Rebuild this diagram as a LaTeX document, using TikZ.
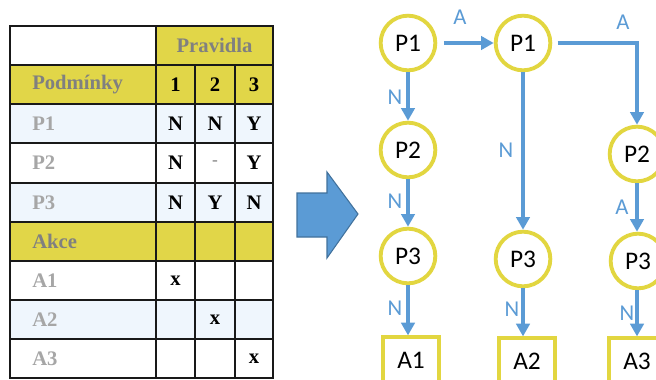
\documentclass[tikz,border=0pt]{standalone}
\usepackage{fontspec}
\setmainfont{Liberation Serif}
\newfontfamily\calib{Carlito}
\usetikzlibrary{arrows.meta}
\definecolor{tyellow}{RGB}{225,214,72}
\definecolor{tblue}{RGB}{239,246,253}
\definecolor{hgray}{RGB}{128,128,128}
\definecolor{lgray}{RGB}{166,166,166}
\definecolor{flow}{RGB}{91,155,213}
\definecolor{ring}{RGB}{226,214,64}
\definecolor{bigedge}{RGB}{65,113,156}
\begin{document}
\begin{tikzpicture}[x=0.75pt,y=-0.75pt,
  grid/.style={draw=black!90, line width=1.7pt},
  hd/.style={text=hgray, font=\bfseries\fontsize{15.5}{18}\selectfont, inner sep=0pt},
  rowlab/.style={text=lgray, font=\bfseries\fontsize{15.5}{18}\selectfont, inner sep=0pt, anchor=west},
  val/.style={text=black, font=\bfseries\fontsize{15.5}{18}\selectfont, inner sep=0pt},
  dec/.style={circle, draw=ring, fill=white, line width=2.9pt, minimum size=41pt, inner sep=0pt,
    font=\calib\fontsize{19}{21}\selectfont},
  act/.style={rectangle, draw=ring, fill=white, line width=2.9pt, minimum width=42pt, minimum height=34pt,
    inner sep=0pt, font=\calib\fontsize{19}{21}\selectfont},
  flowarrow/.style={draw=flow, line width=2.6pt, -{Triangle[width=10pt,length=9.5pt]}},
  lab/.style={text=flow, font=\calib\fontsize{17}{19}\selectfont, inner sep=0pt}]
\useasboundingbox (0,0) rectangle (656,379);
\clip (0,0) rectangle (656,379);

% ---- decision table: cell backgrounds ----
\fill[tyellow] (156,26) rectangle (273,65);
\fill[tyellow] (10,65) rectangle (273,104);
\fill[tblue] (10,104) rectangle (273,143);
\fill[tblue] (10,183) rectangle (273,222);
\fill[tyellow] (10,222) rectangle (273,261);
\fill[tblue] (10,300) rectangle (273,339);

% ---- decision table: grid ----
\draw[grid] (10,26) rectangle (273,378);
\foreach \yy in {65,104,143,183,222,261,300,339}
  \draw[grid] (10,\yy) -- (273,\yy);
\draw[grid] (156,26) -- (156,378);
\draw[grid] (195,65) -- (195,378);
\draw[grid] (235,65) -- (235,378);

% ---- decision table: texts ----
\node[hd] (pravidla) at (214.5,45.5) {Pravidla};
\node[hd, anchor=west] (podminky) at (32,84.5) {Podmínky};
\node[val] (r1) at (175.5,84.5) {1};
\node[val] (r2) at (215,84.5) {2};
\node[val] (r3) at (254,84.5) {3};

\node[rowlab] (tp1) at (32,123.5) {P1};
\node[val] (p1a) at (175.5,123.5) {N};
\node[val] (p1b) at (215,123.5) {N};
\node[val] (p1c) at (254,123.5) {Y};

\node[rowlab] (tp2) at (32,163) {P2};
\node[val] (p2a) at (175.5,163) {N};
\node[text=hgray, font=\fontsize{13}{15}\selectfont, inner sep=0pt] (p2b) at (215,163) {-};
\node[val] (p2c) at (254,163) {Y};

\node[rowlab] (tp3) at (32,202.5) {P3};
\node[val] (p3a) at (175.5,202.5) {N};
\node[val] (p3b) at (215,202.5) {Y};
\node[val] (p3c) at (254,202.5) {N};

\node[hd, anchor=west] (akce) at (32,241.5) {Akce};
\node[rowlab] (ta1) at (32,280.5) {A1};
\node[val] (xa1) at (175.5,280.5) {x};
\node[rowlab] (ta2) at (32,319.5) {A2};
\node[val] (xa2) at (215,319.5) {x};
\node[rowlab] (ta3) at (32,358.5) {A3};
\node[val] (xa3) at (254,358.5) {x};

% ---- block arrow ----
\draw[fill=flow, draw=bigedge, line width=0.8pt, line join=miter]
  (297,193) -- (327,193) -- (327,172) -- (358,214) -- (327,258) -- (327,237) -- (297,237) -- cycle;

% ---- decision tree ----
\node[dec] (P1a) at (408,43) {P1};
\node[dec] (P1b) at (523,43) {P1};
\node[dec] (P2a) at (408,150) {P2};
\node[dec] (P2c) at (637,154) {P2};
\node[dec] (P3a) at (408,256) {P3};
\node[dec] (P3b) at (523,259) {P3};
\node[dec] (P3c) at (638,261) {P3};
\node[act] (A1) at (411,360) {A1};
\node[act] (A2) at (527,361) {A2};
\node[act] (A3) at (637,361) {A3};
\coordinate (bend) at (637,43);

\draw[flowarrow, shorten <=5pt] (P1a) -- (P1b);
\draw[flowarrow, shorten <=4pt] (P1b.east) -- (bend) -- (P2c.north);
\draw[flowarrow] (P1a) -- (P2a);
\draw[flowarrow] (P2a) -- (P3a);
\draw[flowarrow] (P3a.south) -- (P3a.south |- A1.north);
\draw[flowarrow] (P1b) -- (P3b);
\draw[flowarrow] (P3b.south) -- (P3b.south |- A2.north);
\draw[flowarrow] (P2c) -- (P3c.north -| P2c);
\draw[flowarrow] (P3c.south -| P2c) -- (A3.north -| P2c);

\node[lab] (lA1) at (460,17) {A};
\node[lab] (lA2) at (623,22) {A};
\node[lab] (lN1) at (395,97) {N};
\node[lab] (lN2) at (506,150) {N};
\node[lab] (lN3) at (395,201) {N};
\node[lab] (lA3) at (622,207) {A};
\node[lab] (lN4) at (395,308) {N};
\node[lab] (lN5) at (512,309) {N};
\node[lab] (lN6) at (627,313) {N};
\end{tikzpicture}
\end{document}
